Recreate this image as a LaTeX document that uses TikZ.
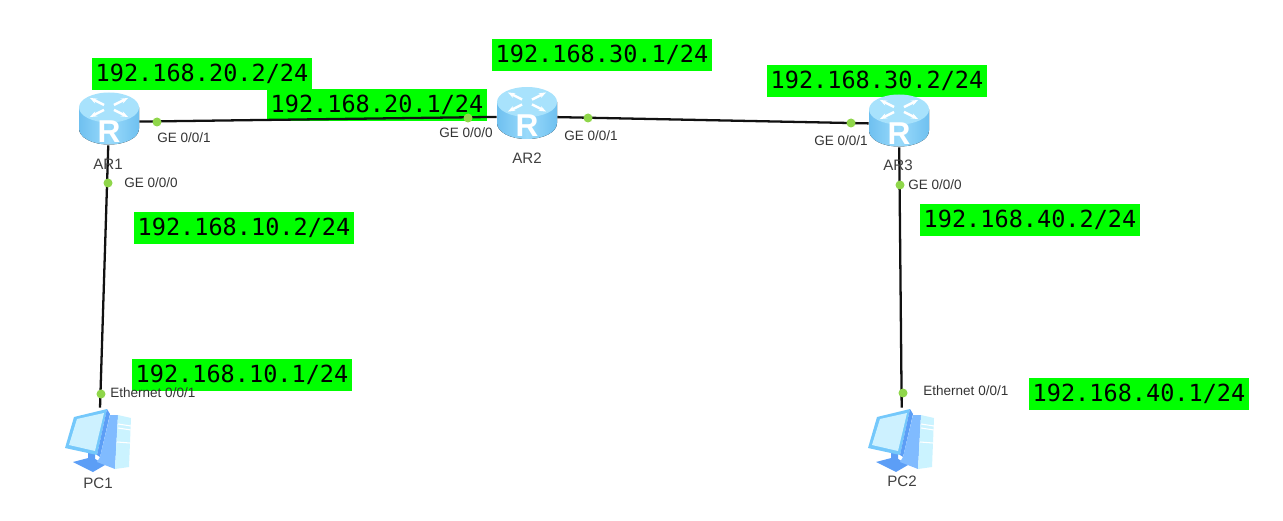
\documentclass[tikz,border=0pt]{standalone}
\usepackage{fontspec}
\setmainfont{Liberation Sans}
\setmonofont{DejaVu Sans Mono}
\usepackage{tikz}
\usetikzlibrary{arrows.meta, calc}

\definecolor{addrgreen}{HTML}{00FF00}
\definecolor{portgreen}{HTML}{8FD64A}
\definecolor{linkblack}{HTML}{111111}
\definecolor{routerside}{HTML}{6FC0F0}
\definecolor{routermid}{HTML}{9ADBFB}
\definecolor{routertop}{HTML}{A8E2FC}
\definecolor{screenedge}{HTML}{74C8FB}
\definecolor{screenface}{HTML}{CDF1FF}
\definecolor{pcdark}{HTML}{5C9EF6}
\definecolor{pcside}{HTML}{80BBFF}
\definecolor{pcfront}{HTML}{CBF3FF}

\tikzset{
  addr/.style={fill=addrgreen, inner sep=0pt, minimum width=4.4cm, minimum height=0.64cm, font=\ttfamily\fontsize{13.4}{14}\selectfont, text=black},
  device/.style={inner sep=0pt, minimum width=1.2cm, minimum height=0.92cm},
  hostbox/.style={inner sep=0pt, minimum width=1.3cm, minimum height=1.28cm},
  link/.style={draw=linkblack, line width=1.3pt},
  port/.style={circle, fill=portgreen, inner sep=0pt, minimum size=0.18cm},
  tag/.style={font=\fontsize{7.7}{8}\selectfont, text=black!80, inner sep=0pt},
  devname/.style={font=\fontsize{8.6}{9}\selectfont, text=black!75, inner sep=0pt},
  routericon/.pic={
    \fill[left color=routerside, right color=routerside, middle color=routermid] (-30,-11) -- (-30,10) .. controls (-30,19) and (-17,26) .. (0,26) .. controls (17,26) and (30,19) .. (30,10) -- (30,-11) -- cycle;
    \fill[routertop] (0,-11) ellipse [x radius=30, y radius=15];
    % arrows on the top
    \foreach \ang in {45,135,225,315}
      \draw[white, line width=1.4pt, -{Stealth[length=4pt]}, cm={1,0,0,0.5,(0,-11)}] (\ang:7) -- (\ang:27);
    \node[text=white, inner sep=0pt, font=\bfseries\fontsize{18}{18}\selectfont] at (0,13) {R};
  },
  pcicon/.pic={
    \fill[pcdark] (-26,22) -- (-7,17) -- (6,25) -- (-6,32) -- cycle;
    \fill[pcdark] (-11,10) -- (-4,12) -- (-4,20) -- (-11,20) -- cycle;
    \fill[screenedge] (-34,8) -- (-25,-23) -- (8,-31) -- (-2,15) -- cycle;
    \fill[screenface] (-30,5) -- (-22,-21) -- (5,-27) -- (-4,11) -- cycle;
    \fill[pcdark] (8,-31) -- (11,-26) -- (1,17) -- (-2,15) -- cycle;
    \fill[pcside] (11,-25) -- (19,-25) -- (16,29) -- (-2,22) -- (1,17) -- cycle;
    \fill[pcfront] (19,-25) -- (32,-22) -- (30,27) -- (16,29) -- cycle;
    \draw[white, line width=0.6pt] (19,-16) -- (32,-14) (19,-12) -- (32,-10) (18,2) -- (31,3);
  },
}

\begin{document}
\begin{tikzpicture}[x=0.02cm, y=-0.02cm]
  \useasboundingbox (0,0) rectangle (1283,520);

  % Address labels
  \node[addr] (addrA) at (202,74) {192.168.20.2/24};
  \node[addr] (addrB) at (377,105) {192.168.20.1/24};
  \node[addr] (addrC) at (602,55) {192.168.30.1/24};
  \node[addr] (addrD) at (877,81) {192.168.30.2/24};
  \node[addr] (addrE) at (244,228) {192.168.10.2/24};
  \node[addr] (addrF) at (242,375) {192.168.10.1/24};
  \node[addr] (addrG) at (1030,220) {192.168.40.2/24};
  \node[addr] (addrH) at (1139,394) {192.168.40.1/24};

  % Devices
  \node[device] (ar1) at (109,122) {};
  \node[device] (ar2) at (527,116.5) {};
  \node[device] (ar3) at (899,124) {};
  \node[hostbox] (pc1) at (99,440) {};
  \node[hostbox] (pc2) at (902,440) {};

  % Links
  \draw[link] (ar1) -- (ar2);
  \draw[link] (ar2) -- (ar3);
  \draw[link] (ar1) -- (pc1);
  \draw[link] (ar3) -- (pc2);

  % Icons
  \pic at ($(ar1)+(0,-3.5)$) {routericon};
  \pic at ($(ar2)+(0,-3.5)$) {routericon};
  \pic at ($(ar3)+(0,-3.5)$) {routericon};
  \pic at (pc1) {pcicon};
  \pic at (pc2) {pcicon};

  % Port dots
  \node[port] (p1) at (157,122) {};
  \node[port] (p2) at (468,118) {};
  \node[port] (p3) at (588,118) {};
  \node[port] (p4) at (851,123) {};
  \node[port] (p5) at (108,183) {};
  \node[port] (p6) at (900,185) {};
  \node[port] (p7) at (101,394) {};
  \node[port] (p8) at (903,393) {};

  % Port labels
  \node[tag, anchor=west] (t1) at (157,138) {GE 0/0/1};
  \node[tag, anchor=west] (t2) at (439,133) {GE 0/0/0};
  \node[tag, anchor=west] (t3) at (564,136) {GE 0/0/1};
  \node[tag, anchor=west] (t4) at (814,141) {GE 0/0/1};
  \node[tag, anchor=west] (t5) at (124,183) {GE 0/0/0};
  \node[tag, anchor=west] (t6) at (908,185) {GE 0/0/0};
  \node[tag, anchor=west] (t7) at (110,393) {Ethernet 0/0/1};
  \node[tag, anchor=west] (t8) at (923,391) {Ethernet 0/0/1};

  % Device names
  \node[devname] (n1) at (108,164) {AR1};
  \node[devname] (n2) at (527,158) {AR2};
  \node[devname] (n3) at (898,165) {AR3};
  \node[devname] (n4) at (98,483) {PC1};
  \node[devname] (n5) at (902,481) {PC2};
\end{tikzpicture}
\end{document}
